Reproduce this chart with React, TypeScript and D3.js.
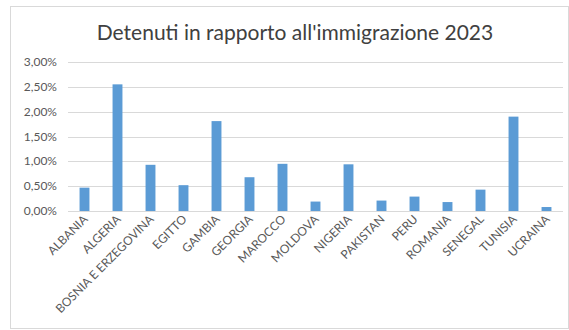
import React from "react";
import * as d3 from "d3";

const categories = ["ALBANIA", "ALGERIA", "BOSNIA E ERZEGOVINA", "EGITTO", "GAMBIA", "GEORGIA", "MAROCCO", "MOLDOVA", "NIGERIA", "PAKISTAN", "PERU", "ROMANIA", "SENEGAL", "TUNISIA", "UCRAINA"];
const values = [0.0047, 0.0255, 0.0093, 0.0052, 0.0181, 0.0068, 0.0095, 0.0019, 0.0094, 0.0021, 0.0029, 0.0018, 0.0043, 0.0190, 0.0008];
const yTicks = [0, 0.005, 0.01, 0.015, 0.02, 0.025, 0.03];
const title = "Detenuti in rapporto all'immigrazione 2023";

const W = 569, H = 330;
const font = "Lato, 'Open Sans', sans-serif";

export default function App() {
  const x = d3.scaleBand<string>().domain(categories).range([68, 563]).paddingInner(0.7).paddingOuter(0.35);
  const y = d3.scaleLinear().domain([0, 0.03]).range([211, 62]);
  const fmt = (v: number) => (v * 100).toFixed(2).replace(".", ",") + "%";
  return (
    <svg width={W} height={H} style={{ position: "absolute", left: 0, top: 0, background: "#fff" }}>
      <rect x={10.5} y={6.5} width={W - 11} height={H - 8} fill="#fff" stroke="#d9d9d9" />
      <text x={295} y={40} textAnchor="middle" fontFamily={font} fontSize={21} fill="#404040">{title}</text>
      {yTicks.map((t) => (
        <g key={t}>
          <line x1={68} x2={563} y1={Math.round(y(t)) + 0.5} y2={Math.round(y(t)) + 0.5} stroke="#d9d9d9" />
          <text x={57} y={y(t) + 4} textAnchor="end" fontFamily={font} fontSize={12} fill="#595959">{fmt(t)}</text>
        </g>
      ))}
      {categories.map((c, i) => (
        <rect key={c} x={x(c)} y={y(values[i])} width={x.bandwidth()} height={y(0) - y(values[i])} fill="#5b9bd5" />
      ))}
      {categories.map((c) => {
        const cx = (x(c) as number) + x.bandwidth() / 2 + 4;
        const cy = 220;
        return (
          <text key={c} x={cx} y={cy} textAnchor="end" fontFamily={font} fontSize={12} fill="#595959" transform={`rotate(-45 ${cx} ${cy})`}>{c}</text>
        );
      })}
    </svg>
  );
}
